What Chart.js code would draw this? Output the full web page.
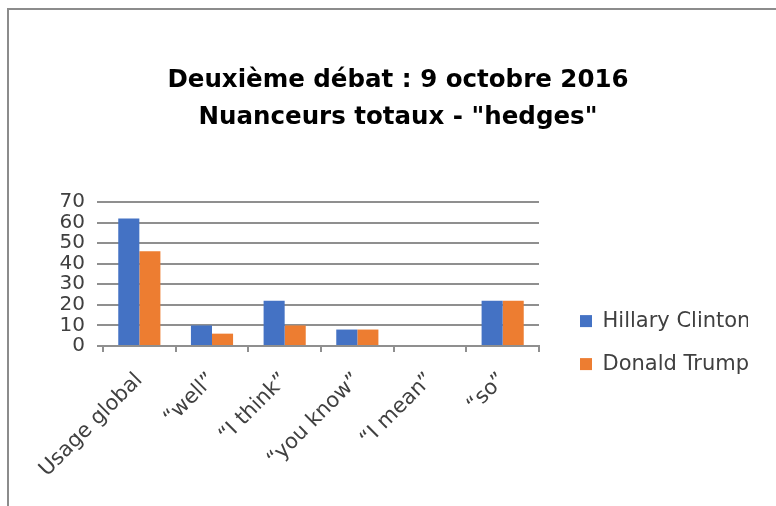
<!DOCTYPE html>
<html>
<head>
<meta charset="utf-8">
<script src="https://cdn.jsdelivr.net/npm/chart.js@4.4.1/dist/chart.umd.min.js"></script>
<style>
  html, body { margin: 0; padding: 0; background: #fff; overflow: hidden; }
  #wrap { position: relative; width: 776px; height: 506px; }
  #frame { position: absolute; left: 7px; top: 8px; width: 820px; height: 600px; border: 2px solid #8c8c8c; box-sizing: border-box; }
  #chart { position: absolute; left: 0; top: 0; }
</style>
</head>
<body>
<div id="wrap">
  <div id="frame"></div>
  <canvas id="chart" width="776" height="506"></canvas>
</div>
<script>
const categories = ['Usage global', '\u201Cwell\u201D', '\u201CI think\u201D', '\u201Cyou know\u201D', '\u201CI mean\u201D', '\u201Cso\u201D'];
const clinton = [62, 10, 22, 8, 0, 22];
const trump = [46, 6, 10, 8, 0, 22];
const titleLines = ['Deuxi\u00e8me d\u00e9bat : 9 octobre 2016', 'Nuanceurs totaux - "hedges"'];
const yMin = 0, yMax = 70, yStep = 10;

const FONT = "'DejaVu Sans', sans-serif";
const TEXT = '#404040';
const GRID = '#8f8f8f';

new Chart(document.getElementById('chart'), {
  type: 'bar',
  data: {
    labels: categories,
    datasets: [
      { label: 'Hillary Clinton', data: clinton, backgroundColor: '#4472C4' },
      { label: 'Donald Trump', data: trump, backgroundColor: '#ED7D31' }
    ]
  },
  options: {
    responsive: false,
    animation: false,
    categoryPercentage: 0.58,
    barPercentage: 1,
    // left/right padding balance keeps the title centred where the original has it
    layout: { padding: { left: 48, top: 0, right: 28, bottom: 26 } },
    plugins: {
      title: {
        display: true,
        text: titleLines,
        color: '#000',
        font: { family: FONT, size: 24.5, weight: 'bold', lineHeight: '37px' },
        padding: { top: 62, bottom: 66 }
      },
      legend: {
        position: 'right',
        maxWidth: 190,
        // empty legend title only pushes the entries down to where the original sits
        title: { display: true, text: ' ', font: { size: 1 }, padding: { top: 0, bottom: 204 } },
        labels: {
          color: TEXT,
          font: { family: FONT, size: 21 },
          boxWidth: 12,
          boxHeight: 12,
          padding: 22
        }
      },
      tooltip: { enabled: false }
    },
    scales: {
      x: {
        grid: { offset: true, drawOnChartArea: false, drawTicks: true, tickLength: 6, color: GRID, lineWidth: 2 },
        border: { display: true, color: GRID, width: 2 },
        ticks: { color: TEXT, font: { family: FONT, size: 21 }, minRotation: 45, maxRotation: 45, padding: 16, autoSkip: false },
        afterFit: function(s){ s.height = 134; }
      },
      y: {
        min: yMin, max: yMax,
        grid: { color: GRID, lineWidth: 2, tickLength: 6 },
        border: { display: false },
        ticks: { stepSize: yStep, color: TEXT, font: { family: FONT, size: 20 }, padding: 12, autoSkip: false },
        afterFit: function(s){ s.width = 55; }
      },
      y2: {
        position: 'right',
        display: true,
        grid: { display: false },
        border: { display: false },
        ticks: { display: false },
        afterFit: function(s){ s.width = 19; }
      }
    }
  }
});
</script>
</body>
</html>
